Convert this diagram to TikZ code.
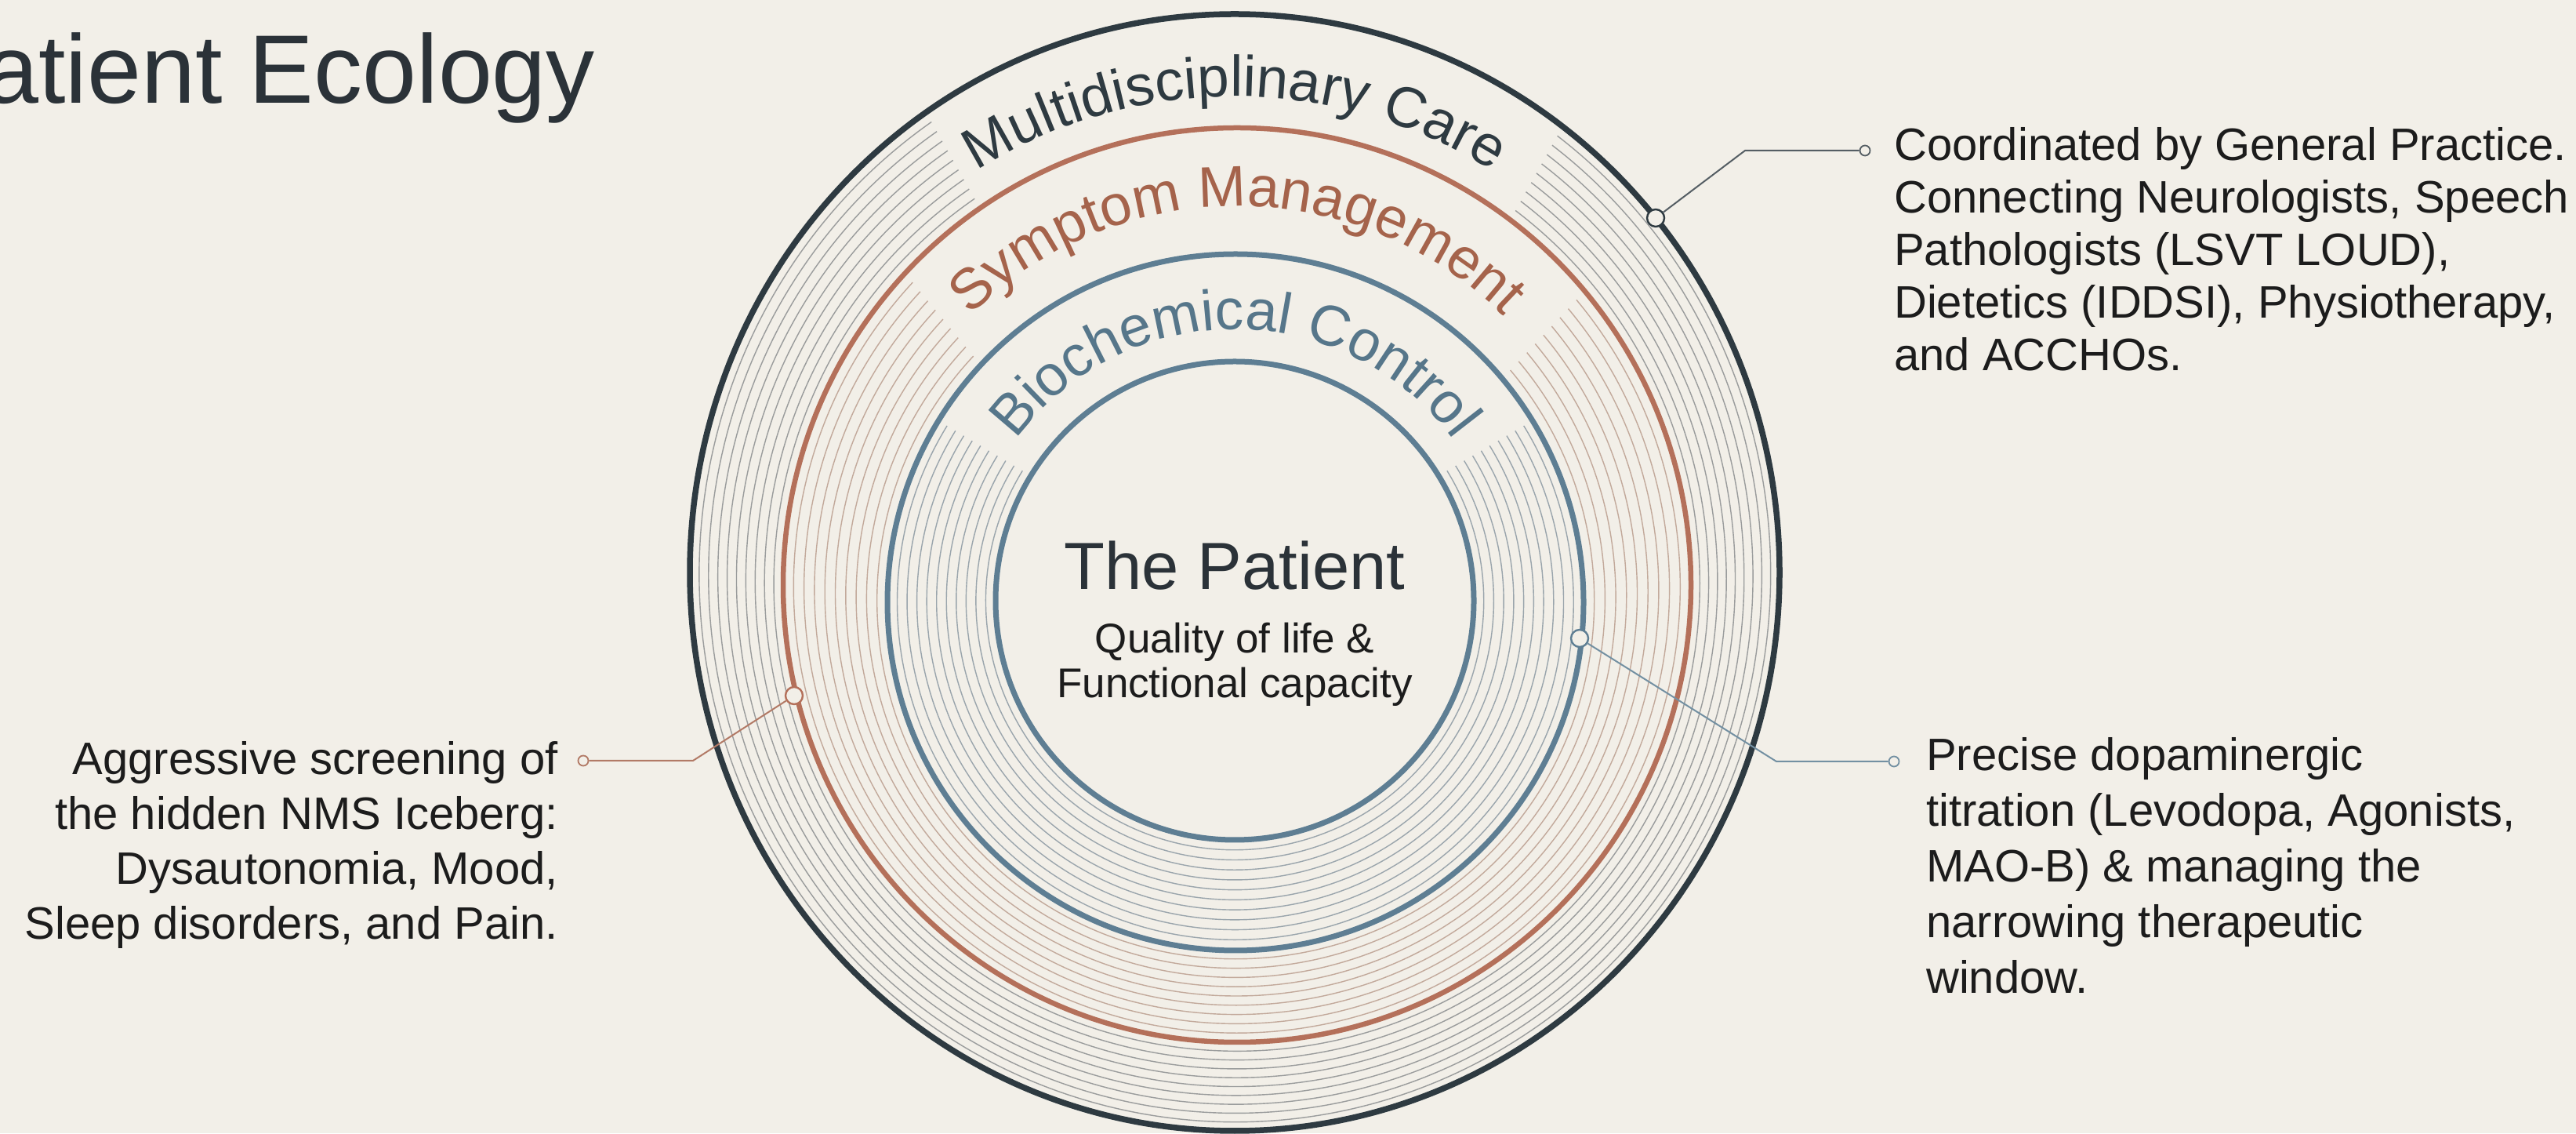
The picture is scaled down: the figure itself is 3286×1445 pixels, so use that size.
\documentclass[tikz,border=0pt]{standalone}
\usepackage{fontspec}
\setmainfont{Liberation Sans}
\usetikzlibrary{decorations.text}

\definecolor{paper}{HTML}{F2EFE8}
\definecolor{ringdark}{HTML}{2E3A41}
\definecolor{ringorange}{HTML}{B4705A}
\definecolor{ringblue}{HTML}{5E7E93}
\definecolor{labeldark}{HTML}{2E3A41}
\definecolor{labelorange}{HTML}{A5634B}
\definecolor{labelblue}{HTML}{56768A}
\definecolor{inkbody}{HTML}{1C1C1C}
\definecolor{titleink}{HTML}{2B3238}
\definecolor{hairgray}{HTML}{9A9C9C}
\definecolor{hairwarm}{HTML}{C2A99B}
\definecolor{hairblue}{HTML}{9AA5AC}
\definecolor{leaddark}{HTML}{555E64}
\definecolor{leadorange}{HTML}{B27A66}
\definecolor{leadblue}{HTML}{7390A2}

\newcommand{\ringfont}{\fontsize{73}{73}\selectfont}

\begin{document}
\begin{tikzpicture}[x=1pt, y=1pt,
  ring/.style={draw=#1, line width=7pt},
  hair/.style={draw=#1, line width=1.4pt},
  lead/.style={draw=#1, line width=2pt},
  ringdot/.style={circle, draw=#1, fill=paper, line width=2.4pt, minimum size=22pt, inner sep=0pt},
  tipdot/.style={circle, draw=#1, fill=paper, line width=1.8pt, minimum size=13pt, inner sep=0pt},
  bodytext/.style={inner sep=0pt, text=inkbody}
]
\useasboundingbox (0,0) rectangle (3286,1445);
\fill[paper] (0,0) rectangle (3286,1445);

% hairlines between the orange ring and the outer ring
\foreach \i in {1,...,9}{
  \pgfmathsetmacro\hf{\i/10}
  \pgfmathsetmacro\cx{1578+(1575-1578)*\hf}
  \pgfmathsetmacro\cy{699+(715-699)*\hf}
  \pgfmathsetmacro\rx{579+(695-579)*\hf}
  \pgfmathsetmacro\ry{583+(712-583)*\hf}
  \draw[hair=hairgray] (\cx,\cy) ++(124.5:\rx\space and \ry) arc[start angle=124.5, end angle=413, x radius=\rx, y radius=\ry];
}
% hairlines between the outer blue ring and the orange ring
\foreach \i in {1,...,9}{
  \pgfmathsetmacro\hf{\i/10}
  \pgfmathsetmacro\cx{1576+(1578-1576)*\hf}
  \pgfmathsetmacro\cy{677+(699-677)*\hf}
  \pgfmathsetmacro\rx{444+(579-444)*\hf}
  \pgfmathsetmacro\ry{443+(583-443)*\hf}
  \draw[hair=hairwarm] (\cx,\cy) ++(137:\rx\space and \ry) arc[start angle=137, end angle=400, x radius=\rx, y radius=\ry];
}
% hairlines between the two blue rings
\foreach \i in {1,...,10}{
  \pgfmathsetmacro\hf{\i/11}
  \pgfmathsetmacro\cx{1575+(1576-1575)*\hf}
  \pgfmathsetmacro\cy{679+(677-679)*\hf}
  \pgfmathsetmacro\rx{305+(444-305)*\hf}
  \pgfmathsetmacro\ry{305+(443-305)*\hf}
  \draw[hair=hairblue] (\cx,\cy) ++(148.5:\rx\space and \ry) arc[start angle=148.5, end angle=391.5, x radius=\rx, y radius=\ry];
}

% the four rings
\draw[ring=ringdark, line width=7.5pt] (1575,715) ellipse[x radius=695, y radius=712];
\draw[ring=ringorange, line width=6.5pt] (1578,699) ellipse[x radius=579, y radius=583];
\draw[ring=ringblue] (1576,677) circle[radius=444];
\draw[ring=ringblue] (1575,679) circle[radius=305];

% ring labels set along arcs
\path[decorate, decoration={text along path, text align=center, text color=labeldark,
  text={|\ringfont|Multidisciplinary Care}}]
  (1575,705) ++(175:617) arc[start angle=175, end angle=5, radius=617];
\path[decorate, decoration={text along path, text align=center, text color=labelorange,
  text={|\ringfont|Symptom Management}}]
  (1578,699) ++(175:483) arc[start angle=175, end angle=5, radius=483];
\path[decorate, decoration={text along path, text align=center, text color=labelblue,
  text={|\ringfont|Biochemical Control}}]
  (1575,678) ++(175:347) arc[start angle=175, end angle=5, radius=347];

% title
\node[anchor=base west, inner sep=0pt, text=titleink, font=\fontsize{124}{130}\selectfont] (title) at (-20,1313) {atient Ecology};

% centre (multi-line nodes are anchored at the baseline of their last line)
\node[anchor=base, inner sep=0pt, text=titleink, font=\fontsize{85}{85}\selectfont] (core) at (1575,693) {The Patient};
\node[bodytext, anchor=base, align=center, font=\fontsize{53}{57}\selectfont] (coresub) at (1575,555) {Quality of life \&\\Functional capacity};

% annotations
\node[bodytext, anchor=base west, align=left, font=\fontsize{58}{67}\selectfont] (noteMC) at (2416,972)
  {Coordinated by General Practice.\\Connecting Neurologists, Speech\\Pathologists (LSVT LOUD),\\Dietetics (IDDSI), Physiotherapy,\\and ACCHOs.};
\node[bodytext, anchor=base east, align=right, font=\fontsize{58}{70}\selectfont] (noteSM) at (712,247)
  {Aggressive screening of\\the hidden NMS Iceberg:\\Dysautonomia, Mood,\\Sleep disorders, and Pain.};
\node[bodytext, anchor=base west, align=left, font=\fontsize{58}{71}\selectfont] (noteBC) at (2457,178)
  {Precise dopaminergic\\titration (Levodopa, Agonists,\\MAO-B) \& managing the\\narrowing therapeutic\\window.};

% anchor points on the rings and at the notes
\node[ringdot=ringdark] (pMC) at (2112,1167) {};
\node[ringdot=ringorange] (pSM) at (1013,558) {};
\node[ringdot=ringblue] (pBC) at (2015,631) {};
\coordinate (kMC) at (2226,1253);
\coordinate (kSM) at (884,475);
\coordinate (kBC) at (2266,474);
\node[tipdot=leaddark] (dMC) at (2379,1253) {};
\node[tipdot=leadorange] (dSM) at (744,475) {};
\node[tipdot=leadblue] (dBC) at (2416,474) {};

% leader lines
\draw[lead=leaddark] (pMC) -- (kMC) -- (dMC);
\draw[lead=leadorange] (pSM) -- (kSM) -- (dSM);
\draw[lead=leadblue] (pBC) -- (kBC) -- (dBC);
\end{tikzpicture}
\end{document}
